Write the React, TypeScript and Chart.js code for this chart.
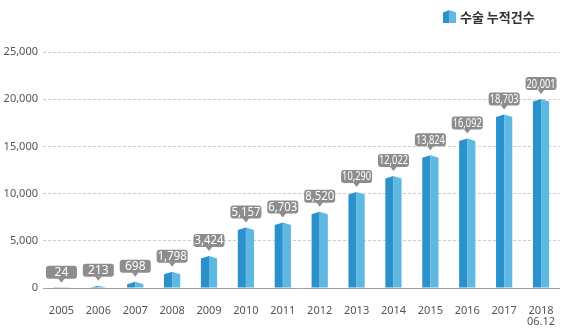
import React, { useEffect, useRef } from "react";
import { Chart, registerables } from "chart.js";

Chart.register(...registerables);

// ---- data ----
const years: (string | string[])[] = [
  "2005", "2006", "2007", "2008", "2009", "2010", "2011",
  "2012", "2013", "2014", "2015", "2016", "2017", ["2018", "06.12"],
];
// values printed in the grey callouts
const labelValues = [24, 213, 698, 1798, 3424, 5157, 6703, 8520, 10290, 12022, 13824, 16092, 18703, 20001];
// bar heights as drawn in the picture
const barHeights = [24, 240, 670, 1730, 3390, 6400, 6940, 8070, 10180, 11870, 14060, 15830, 18390, 20010];
const yTickValues = [0, 5000, 10000, 15000, 20000, 25000];
const seriesName = "수술 누적건수";

const DARK = "#2b91cc";
const LIGHT = "#5fb8e2";
const CALLOUT = "#8d8d8d";
const TICK_FONT = '"Noto Sans", sans-serif';

function drawBlock(ctx: CanvasRenderingContext2D, x: number, y: number, w: number, base: number) {
  const l = x - w / 2;
  const r = x + w / 2;
  const roof = Math.min(2.5, Math.max(0, base - y));
  ctx.fillStyle = DARK;
  ctx.beginPath();
  ctx.moveTo(l, base);
  ctx.lineTo(l, y + roof);
  ctx.lineTo(x, y);
  ctx.lineTo(x, base);
  ctx.closePath();
  ctx.fill();
  ctx.fillStyle = LIGHT;
  ctx.beginPath();
  ctx.moveTo(x, base);
  ctx.lineTo(x, y);
  ctx.lineTo(r, y + roof);
  ctx.lineTo(r, base);
  ctx.closePath();
  ctx.fill();
}

const barsPlugin = {
  id: "bars3d",
  afterDatasetsDraw(chart: any) {
    const ctx: CanvasRenderingContext2D = chart.ctx;
    const meta = chart.getDatasetMeta(0);
    ctx.save();
    meta.data.forEach((el: any, i: number) => {
      const { x, y, base, width } = el.getProps(["x", "y", "base", "width"], true);
      drawBlock(ctx, x, y, width, base);
      // callout
      const tip = y - 5;
      const bb = tip - 4;
      const bh = 13;
      const bt = bb - bh;
      const bw = 31;
      ctx.fillStyle = CALLOUT;
      ctx.beginPath();
      (ctx as any).roundRect(x - bw / 2, bt, bw, bh, 3);
      ctx.fill();
      ctx.beginPath();
      ctx.moveTo(x - 3.5, bb - 0.5);
      ctx.lineTo(x + 3.5, bb - 0.5);
      ctx.lineTo(x, tip);
      ctx.closePath();
      ctx.fill();
      ctx.fillStyle = "#ffffff";
      ctx.font = '12px "Noto Sans", sans-serif';
      ctx.textAlign = "center";
      ctx.textBaseline = "middle";
      ctx.fillText(labelValues[i].toLocaleString("en-US"), x, bt + bh / 2 + 0.5, bw - 2);
    });
    ctx.restore();
  },
  afterDraw(chart: any) {
    const ctx: CanvasRenderingContext2D = chart.ctx;
    ctx.save();
    // legend icon
    drawBlock(ctx, 449.5, 10, 13, 23);
    ctx.fillStyle = "#333333";
    ctx.font = 'bold 13px "Noto Sans CJK KR", sans-serif';
    ctx.textAlign = "left";
    ctx.textBaseline = "middle";
    ctx.fillText(seriesName, 460, 17);
    ctx.restore();
  },
};

export default function App() {
  const ref = useRef<HTMLCanvasElement | null>(null);
  useEffect(() => {
    document.body.style.margin = "0";
    if (!ref.current) return;
    const chart = new Chart(ref.current, {
      type: "bar",
      data: {
        labels: years as any,
        datasets: [
          {
            label: seriesName,
            data: barHeights,
            backgroundColor: "rgba(0,0,0,0)",
            borderWidth: 0,
            categoryPercentage: 1,
            barPercentage: 0.44,
          },
        ],
      },
      options: {
        animation: false,
        responsive: false,
        devicePixelRatio: 1,
        layout: { padding: { top: 52, right: 6.5, left: 0, bottom: 0 } },
        plugins: { legend: { display: false }, tooltip: { enabled: false } },
        scales: {
          x: {
            grid: { display: false },
            border: { display: true, color: "#a0a0a0", width: 1 },
            ticks: {
              color: "#555555",
              font: { family: TICK_FONT, size: 11, lineHeight: 1 },
              padding: 9,
              maxRotation: 0,
              autoSkip: false,
            },
            afterFit: (s: any) => {
              s.height = 45;
            },
          },
          y: {
            min: 0,
            max: 25000,
            afterBuildTicks: (s: any) => {
              s.ticks = yTickValues.map((v) => ({ value: v }));
            },
            grid: {
              drawTicks: false,
              color: (c: any) => (c.tick && c.tick.value === 0 ? "rgba(0,0,0,0)" : "#cccccc"),
              lineWidth: 1,
            },
            border: { display: false, dash: [3, 2] },
            ticks: {
              color: "#555555",
              font: { family: TICK_FONT, size: 11 },
              padding: 5,
              callback: (v: any) => Number(v).toLocaleString("en-US"),
            },
            afterFit: (s: any) => {
              s.width = 43;
            },
          },
        },
      },
      plugins: [barsPlugin],
    });
    return () => chart.destroy();
  }, []);
  return (
    <div style={{ width: 566, height: 333, background: "#fff" }}>
      <canvas ref={ref} width={566} height={333} style={{ display: "block" }} />
    </div>
  );
}
